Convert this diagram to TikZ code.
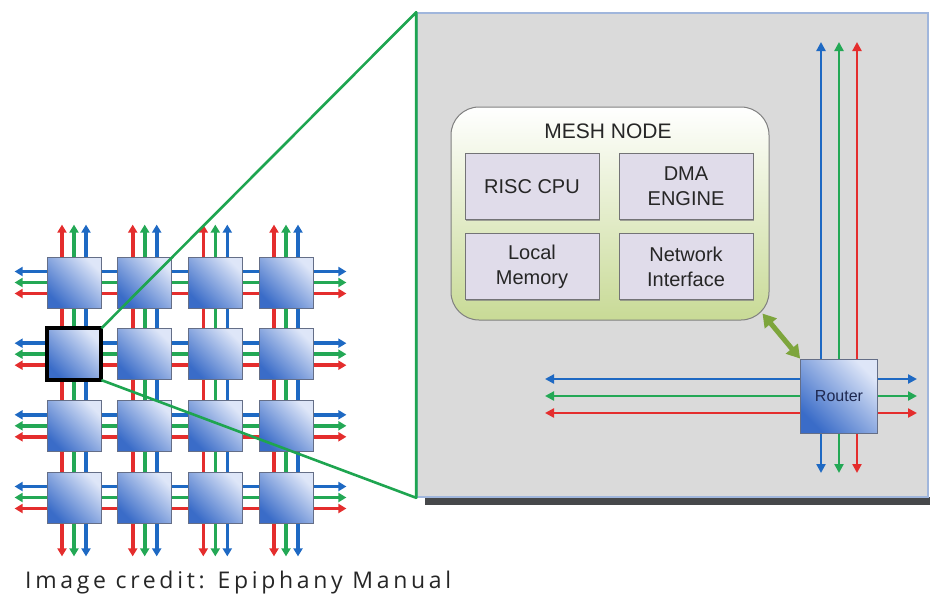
\documentclass[tikz,border=0pt]{standalone}
\usepackage{fontspec}
\setmainfont{Liberation Sans}
\newfontfamily\creditfont[LetterSpace=16]{Open Sans}
\usetikzlibrary{positioning,arrows.meta,backgrounds,shadows}

\definecolor{linkred}{RGB}{228,45,45}
\definecolor{linkgreen}{RGB}{35,168,85}
\definecolor{linkblue}{RGB}{30,105,195}
\definecolor{tiledark}{RGB}{58,108,200}
\definecolor{tilelight}{RGB}{222,230,248}
\definecolor{tileedge}{RGB}{100,110,135}
\definecolor{panelgray}{RGB}{218,218,218}
\definecolor{paneledge}{RGB}{160,182,220}
\definecolor{panelshadow}{RGB}{70,72,74}
\definecolor{zoomgreen}{RGB}{30,165,80}
\definecolor{nodegreen}{RGB}{200,218,150}
\definecolor{unitfill}{RGB}{224,220,234}
\definecolor{unitedge}{RGB}{115,115,118}
\definecolor{labelgray}{RGB}{38,38,38}
\definecolor{olive}{RGB}{125,165,60}

\tikzset{
    tile/.style={draw=tileedge, line width=0.8pt, bottom color=tiledark, top color=tilelight,
        shading angle=-45, minimum width=54pt, minimum height=51pt, inner sep=0pt},
    gridlink/.style={line width=3.6pt, >={Triangle[width=9pt,length=8pt]}, <->,
        shorten <=-32pt, shorten >=-33pt},
    routerlink/.style={line width=2.6pt, >={Triangle[width=9pt,length=9pt]}, <->},
    unit/.style={draw=unitedge, line width=1pt, fill=unitfill, minimum width=134pt,
        minimum height=66pt, align=center, text=labelgray, font=\fontsize{20}{25}\selectfont,
        drop shadow={shadow xshift=0.8pt, shadow yshift=-1.6pt, opacity=0.7}},
    zoomline/.style={zoomgreen, line width=2.6pt, line join=round}
}

\begin{document}
\begin{tikzpicture}[x=1pt, y=-1pt]
    \useasboundingbox (0,0) rectangle (930,598);

    % magnified panel
    \fill[panelshadow] (425,497) rectangle (930,505);
    \node[fill=panelgray, draw=paneledge, line width=1.6pt, minimum width=511pt,
        minimum height=484pt, inner sep=0pt] (panel) at (672.5,255) {};

    % mesh node with its four units
    \node[draw=gray, line width=1pt, rounded corners=28pt, top color=white, bottom color=nodegreen,
        minimum width=318pt, minimum height=213pt] (mesh) at (610,213.5) {};
    \node[anchor=base, text=labelgray, font=\fontsize{21}{25}\selectfont] (title) at (608,138) {MESH NODE};
    \node[unit] (cpu) at (532,186.5) {RISC CPU};
    \node[unit, right=19pt of cpu] (dma) {DMA\\ENGINE};
    \node[unit, below=13pt of cpu] (mem) {Local\\Memory};
    \node[unit, right=19pt of mem] (nic) {Network\\Interface};

    % router and its links
    \coordinate (rt) at (839,396);
    \draw[routerlink, linkblue] ([xshift=-18pt]rt |- 0,42) -- ([xshift=-18pt]rt |- 0,473);
    \draw[routerlink, linkgreen] (rt |- 0,42) -- (rt |- 0,473);
    \draw[routerlink, linkred] ([xshift=18pt]rt |- 0,42) -- ([xshift=18pt]rt |- 0,473);
    \draw[routerlink, linkblue] ([yshift=17pt]rt -| 545,0) -- ([yshift=17pt]rt -| 917,0);
    \draw[routerlink, linkgreen] (rt -| 545,0) -- (rt -| 917,0);
    \draw[routerlink, linkred] ([yshift=-17pt]rt -| 545,0) -- ([yshift=-17pt]rt -| 917,0);
    \node[tile, minimum width=77pt, minimum height=74pt, text={rgb,255:red,30;green,40;blue,80},
        font=\fontsize{16}{18}\selectfont] (router) at (rt) {Router};
    \draw[olive, line width=5pt, >={Triangle[width=15pt,length=13pt]}, <->]
        ([shift={(-7,-7)}]mesh.south east) -- (router.north west);

    % 4x4 mesh of tiles
    \foreach \x [count=\i] in {74,144.7,215.3,286}
        \foreach \y [count=\j] in {282.5,354.2,425.8,497.5}
            \node[tile] (t-\i-\j) at (\x,\y) {};

    \begin{scope}[on background layer]
        \foreach \i in {1,...,4} {
            \draw[gridlink, linkred] ([xshift=-12pt]t-\i-1.north) -- ([xshift=-12pt]t-\i-4.south);
            \draw[gridlink, linkgreen] (t-\i-1.north) -- (t-\i-4.south);
            \draw[gridlink, linkblue] ([xshift=12pt]t-\i-1.north) -- ([xshift=12pt]t-\i-4.south);
            \draw[gridlink, linkblue] ([yshift=11pt]t-1-\i.west) -- ([yshift=11pt]t-4-\i.east);
            \draw[gridlink, linkgreen] (t-1-\i.west) -- (t-4-\i.east);
            \draw[gridlink, linkred] ([yshift=-11pt]t-1-\i.west) -- ([yshift=-11pt]t-4-\i.east);
        }
    \end{scope}

    % selected tile and zoom lines
    \draw[line width=4pt] (t-1-2.south west) rectangle (t-1-2.north east);
    \draw[zoomline] (t-1-2.north east) -- (panel.north west) -- (panel.south west) -- (t-1-2.south east);

    \node[anchor=base west, inner sep=0pt, text=labelgray,
        font=\creditfont\fontsize{23}{28}\selectfont] (credit) at (25,588) {Image credit: Epiphany Manual};
\end{tikzpicture}
\end{document}
